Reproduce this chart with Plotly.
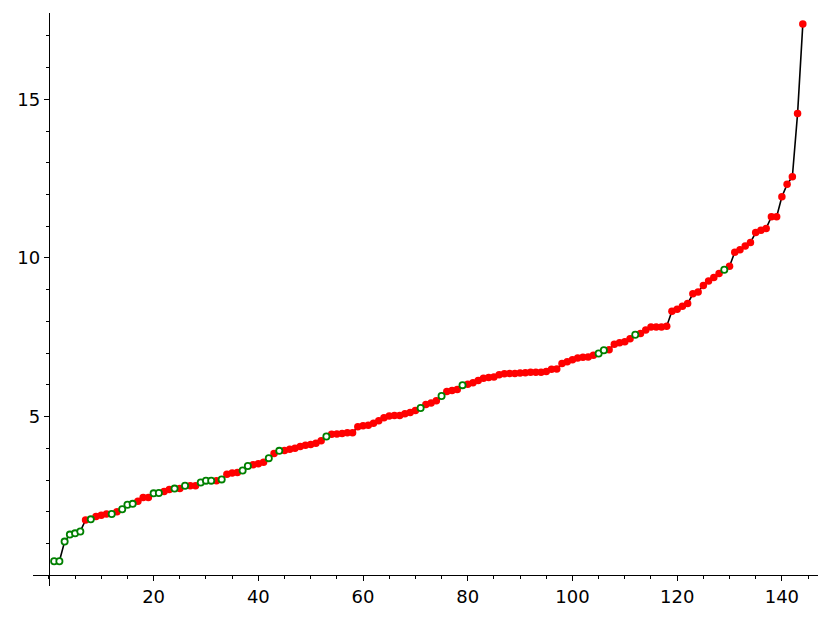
import plotly.graph_objects as go

# data
values = [
    0.44, 0.44, 1.06, 1.28, 1.32, 1.38, 1.74, 1.76, 1.85, 1.89,
    1.93, 1.93, 2.00, 2.08, 2.22, 2.25, 2.33, 2.45, 2.45, 2.58,
    2.59, 2.64, 2.70, 2.73, 2.73, 2.82, 2.82, 2.82, 2.92, 2.98,
    2.98, 2.98, 3.02, 3.18, 3.22, 3.24, 3.30, 3.44, 3.48, 3.51,
    3.56, 3.69, 3.84, 3.92, 3.93, 3.97, 4.00, 4.06, 4.10, 4.12,
    4.16, 4.24, 4.37, 4.44, 4.45, 4.47, 4.49, 4.49, 4.68, 4.71,
    4.73, 4.79, 4.87, 4.96, 5.02, 5.03, 5.03, 5.09, 5.13, 5.19,
    5.27, 5.38, 5.43, 5.50, 5.65, 5.79, 5.82, 5.85, 5.99, 6.02,
    6.07, 6.14, 6.21, 6.23, 6.25, 6.32, 6.35, 6.36, 6.36, 6.37,
    6.38, 6.40, 6.40, 6.40, 6.42, 6.49, 6.50, 6.67, 6.73, 6.79,
    6.85, 6.87, 6.88, 6.93, 6.99, 7.09, 7.11, 7.28, 7.33, 7.36,
    7.45, 7.58, 7.62, 7.73, 7.82, 7.82, 7.82, 7.85, 8.32, 8.38,
    8.48, 8.56, 8.87, 8.93, 9.13, 9.27, 9.38, 9.51, 9.63, 9.74,
    10.18, 10.26, 10.38, 10.49, 10.80, 10.87, 10.93, 11.30, 11.30, 11.93,
    12.32, 12.56, 14.55, 17.37,
]
index = list(range(1, len(values) + 1))
green_indices = [1, 2, 3, 4, 5, 6, 8, 12, 14, 15, 16, 20, 21, 24, 26, 29, 30, 31,
                 33, 37, 38, 42, 44, 53, 71, 75, 79, 105, 106, 112, 129]
x_ticks = [20, 40, 60, 80, 100, 120, 140]
y_ticks = [5, 10, 15]

x_range = [-3.04, 146.9]
y_range = [-0.34, 17.72]

gx = [i for i in index if i in green_indices]
gy = [values[i - 1] for i in gx]
rx = [i for i in index if i not in green_indices]
ry = [values[i - 1] for i in rx]

fig = go.Figure()
fig.add_trace(go.Scatter(x=index, y=values, mode="lines",
                         line=dict(color="black", width=1.6), hoverinfo="skip"))
fig.add_trace(go.Scatter(x=rx, y=ry, mode="markers",
                         marker=dict(color="#ff0000", size=7.5, line=dict(width=0))))
fig.add_trace(go.Scatter(x=gx, y=gy, mode="markers",
                         marker=dict(color="white", size=6.2,
                                     line=dict(color="#008000", width=1.8))))

font = dict(family="DejaVu Sans", size=18, color="black")
xpos = (0 - y_range[0]) / (y_range[1] - y_range[0])
ypos = (0 - x_range[0]) / (x_range[1] - x_range[0])

# the page body has an 8px margin, compensated here
fig.update_layout(
    width=831, height=619,
    margin=dict(l=25, r=21, t=5, b=41),
    paper_bgcolor="white", plot_bgcolor="white",
    showlegend=False,
    font=font,
    xaxis=dict(range=x_range, anchor="free", position=xpos,
               showline=True, linecolor="black", linewidth=1.3,
               showgrid=False, zeroline=False,
               tickmode="array", tickvals=x_ticks, ticktext=[str(v) for v in x_ticks],
               ticks="outside", ticklen=5, tickwidth=1, tickcolor="black",
               minor=dict(dtick=5, tick0=0, ticks="outside", ticklen=3,
                          tickwidth=1, tickcolor="black", showgrid=False),
               tickfont=font, automargin=False),
    yaxis=dict(range=y_range, anchor="free", position=ypos,
               showline=True, linecolor="black", linewidth=1.3,
               showgrid=False, zeroline=False,
               tickmode="array", tickvals=y_ticks, ticktext=[str(v) for v in y_ticks],
               ticks="outside", ticklen=5, tickwidth=1, tickcolor="black",
               minor=dict(dtick=1, tick0=0, ticks="outside", ticklen=3,
                          tickwidth=1, tickcolor="black", showgrid=False),
               tickfont=font, automargin=False),
)

fig.write_html("out.html")
